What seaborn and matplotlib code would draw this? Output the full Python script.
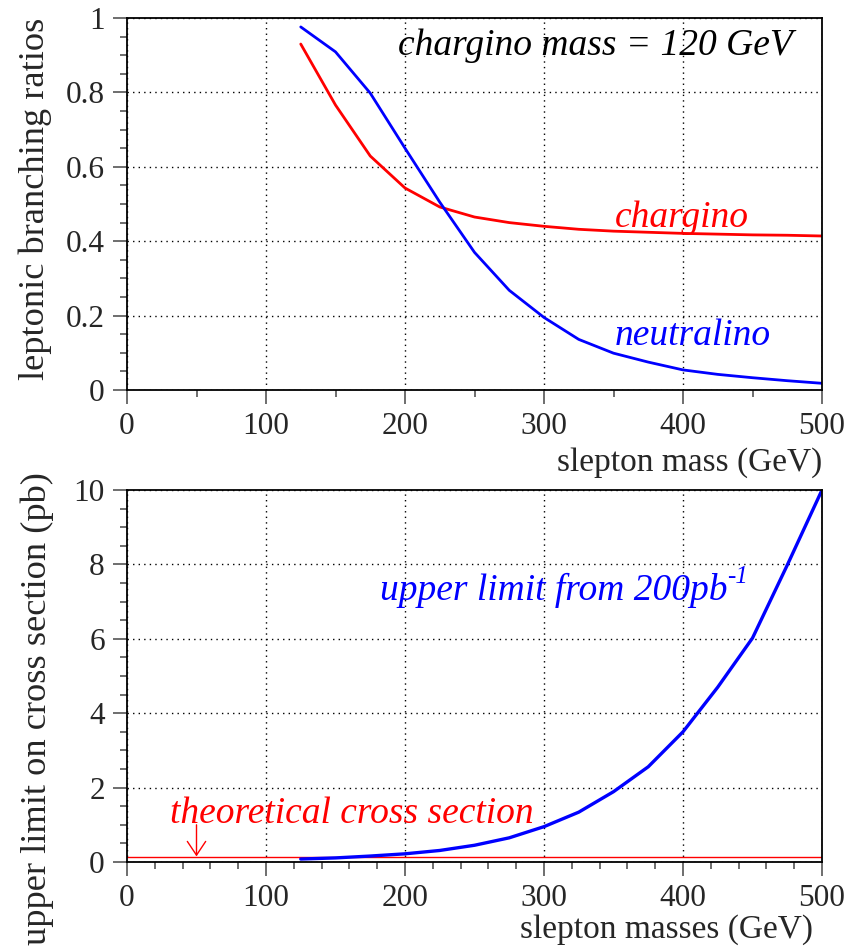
import matplotlib
matplotlib.use("Agg")
import matplotlib.pyplot as plt
from matplotlib.ticker import MultipleLocator, FuncFormatter
import seaborn as sns
import pandas as pd

sns.set_theme(style="white")
plt.rcParams['font.family'] = ['Liberation Serif', 'DejaVu Serif']

# ---- data ----
slepton_mass = [125, 150, 175, 200, 225, 250, 275, 300, 325, 350, 375, 400, 425, 450, 475, 500]
br_chargino = [0.93, 0.766, 0.629, 0.543, 0.492, 0.465, 0.450, 0.440, 0.432, 0.427, 0.424, 0.421, 0.419, 0.417, 0.416, 0.414]
br_neutralino = [0.976, 0.909, 0.798, 0.650, 0.505, 0.370, 0.268, 0.195, 0.136, 0.099, 0.075, 0.054, 0.042, 0.033, 0.025, 0.018]
xsec_limit = [0.08, 0.11, 0.16, 0.22, 0.31, 0.45, 0.65, 0.95, 1.34, 1.89, 2.56, 3.50, 4.70, 6.02, 7.98, 10.0]
theory_x = [0, 500]
theory_xsec = [0.14, 0.14]

top_df = pd.DataFrame({"mass": slepton_mass, "chargino": br_chargino, "neutralino": br_neutralino})
bot_df = pd.DataFrame({"mass": slepton_mass, "limit": xsec_limit})
th_df = pd.DataFrame({"mass": theory_x, "xsec": theory_xsec})

W, H = 855, 950
fig = plt.figure(figsize=(W / 100, H / 100), dpi=100)
ax1 = fig.add_axes([127/W, 1-390/H, 695/W, 372/H])
ax2 = fig.add_axes([127/W, 1-862/H, 695/W, 372/H])

TICK_FS = 22.5
XLAB_FS = 24
YLAB_FS = 26.2
IN_FS = 27

def px(x, y):
    return x / W, 1 - y / H

def style(ax, ymaj, ymin, xmin, fmt):
    ax.set_xlim(0, 500)
    ax.xaxis.set_major_locator(MultipleLocator(100))
    ax.xaxis.set_minor_locator(MultipleLocator(xmin))
    ax.yaxis.set_major_locator(MultipleLocator(ymaj))
    ax.yaxis.set_minor_locator(MultipleLocator(ymin))
    ax.yaxis.set_major_formatter(FuncFormatter(fmt))
    ax.tick_params(which='major', direction='out', length=10, width=1.2, labelsize=TICK_FS,
                   left=True, bottom=True, top=False, right=False, color='#555555', pad=6)
    ax.tick_params(which='minor', direction='out', length=5, width=1.2,
                   left=True, bottom=True, top=False, right=False, color='#555555')
    ax.grid(True, which='major', linestyle=(0, (1, 3)), color='black', linewidth=1.0)
    for s in ax.spines.values():
        s.set_visible(True)
        s.set_color('black')
        s.set_linewidth(1.3)
    ax.set_ylabel("")
    ax.set_xlabel("")

def fmt_top(v, pos):
    if abs(v) < 1e-9:
        return "0"
    if abs(v - 1) < 1e-9:
        return "1"
    return f"{v:.1f}"

def fmt_bot(v, pos):
    return f"{int(round(v))}"

# top panel
sns.lineplot(data=top_df, x="mass", y="chargino", ax=ax1, color='#ff0000', linewidth=2.0)
sns.lineplot(data=top_df, x="mass", y="neutralino", ax=ax1, color='#0000ff', linewidth=2.0)
ax1.set_ylim(0, 1)
style(ax1, 0.2, 0.05, 50, fmt_top)
fig.text(*px(398, 55), "chargino mass = 120 GeV", ha='left', va='baseline',
         fontsize=IN_FS, style='italic', color='black')
fig.text(*px(615, 227), "chargino", ha='left', va='baseline',
         fontsize=IN_FS, style='italic', color='#ff0000')
fig.text(*px(615, 345), "neutralino", ha='left', va='baseline',
         fontsize=IN_FS, style='italic', color='#0000ff')
fig.text(*px(822, 463), "slepton mass (GeV)", ha='right', va='center', fontsize=XLAB_FS)
fig.text(*px(35, 199), "leptonic branching ratios", ha='center', va='center', rotation=90, fontsize=YLAB_FS)

# bottom panel
sns.lineplot(data=th_df, x="mass", y="xsec", ax=ax2, color='#ff0000', linewidth=1.0)
sns.lineplot(data=bot_df, x="mass", y="limit", ax=ax2, color='#0000ff', linewidth=2.4)
ax2.set_ylim(0, 10)
style(ax2, 2, 0.5, 20, fmt_bot)
ax2.annotate("", xy=(50, 0.15), xytext=(50, 1.0),
             arrowprops=dict(arrowstyle='->,head_length=0.45,head_width=0.3', color='#ff0000',
                             lw=1.0, mutation_scale=22, shrinkA=0, shrinkB=0))
fig.text(*px(170, 823), "theoretical cross section", ha='left', va='baseline',
         fontsize=IN_FS, style='italic', color='#ff0000')
fig.text(*px(380, 600), "upper limit from 200pb", ha='left', va='baseline',
         fontsize=IN_FS, style='italic', color='#0000ff')
fig.text(*px(727, 583), "-1", ha='left', va='baseline',
         fontsize=18, style='italic', color='#0000ff')
fig.text(*px(813, 930), "slepton masses (GeV)", ha='right', va='center', fontsize=XLAB_FS)
fig.text(*px(37, 709), "upper limit on cross section (pb)", ha='center', va='center', rotation=90, fontsize=YLAB_FS)

fig.savefig("out.png", dpi=100)
